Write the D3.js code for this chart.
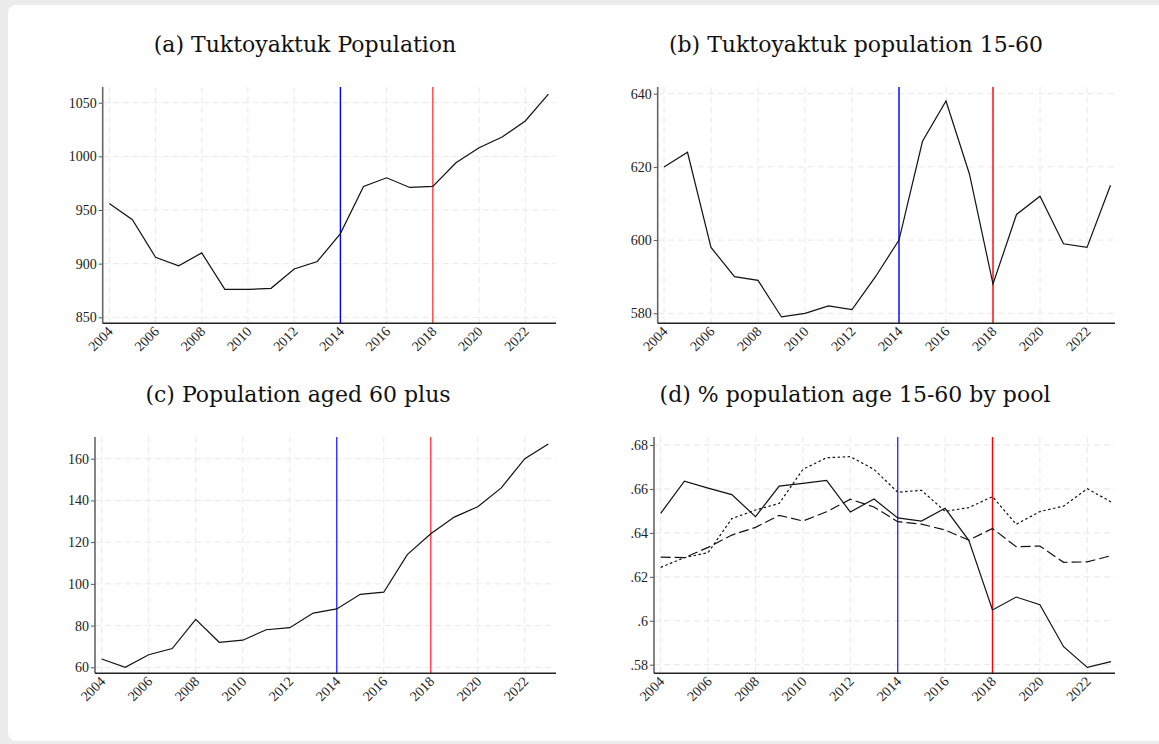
<!DOCTYPE html>
<html>
<head>
<meta charset="utf-8">
<script src="https://cdn.jsdelivr.net/npm/d3@7"></script>
<style>
  html, body { margin: 0; padding: 0; background: #ececec; }
  svg { display: block; }
</style>
</head>
<body>
<svg id="chart" width="1159" height="744"></svg>
<script>
// Years shared by all four panels
const years = d3.range(2004, 2024);
const xTickYears = d3.range(2004, 2023, 2);

// (a) total population
const totalPop = [956, 941, 906, 898, 910, 876, 876, 877, 895, 902, 928, 972, 980, 971, 972, 994, 1008, 1018, 1033, 1058];
const totalTicks = [850, 900, 950, 1000, 1050];

// (b) population aged 15-60
const pop1560 = [620, 624, 598, 590, 589, 579, 580, 582, 581, 590, 600, 627, 638, 618, 588, 607, 612, 599, 598, 615];
const pop1560Ticks = [580, 600, 620, 640];

// (c) population aged 60 plus
const pop60 = [64, 60, 66, 69, 83, 72, 73, 78, 79, 86, 88, 95, 96, 114, 124, 132, 137, 146, 160, 167];
const pop60Ticks = [60, 80, 100, 120, 140, 160];

// (d) share aged 15-60 by pool
const shareSolid  = [0.6489, 0.6635, 0.6604, 0.6574, 0.6474, 0.6613, 0.6625, 0.6639, 0.6495, 0.6554, 0.6468, 0.6454, 0.6512, 0.6366, 0.6049, 0.6108, 0.6073, 0.5882, 0.5788, 0.5814];
const shareDashed = [0.6290, 0.6287, 0.6334, 0.6390, 0.6425, 0.6480, 0.6454, 0.6496, 0.6553, 0.6518, 0.6451, 0.6440, 0.6413, 0.6367, 0.6420, 0.6337, 0.6340, 0.6266, 0.6268, 0.6296];
const shareDotted = [0.6243, 0.6287, 0.6310, 0.6465, 0.6504, 0.6534, 0.6689, 0.6742, 0.6747, 0.6689, 0.6585, 0.6594, 0.6498, 0.6515, 0.6565, 0.6439, 0.6497, 0.6522, 0.6601, 0.6541];
const shareTicks = [0.58, 0.60, 0.62, 0.64, 0.66, 0.68];

// Event years marked by vertical lines
const eventYears = [2014, 2018];

const labelFont = "'Liberation Serif', 'Times New Roman', serif";
const titleFont = "'DejaVu Serif', 'Liberation Serif', serif";

const svg = d3.select("#chart");

// white card
svg.append("rect")
  .attr("x", 8).attr("y", 5).attr("width", 1170).attr("height", 736)
  .attr("rx", 8).attr("ry", 8).attr("fill", "#ffffff");

const panels = [
  {
    title: "(a) Tuktoyaktuk Population", titleX: 305, titleY: 52,
    axisX: 102.7, top: 87, bottom: 323.3, x0: 109.3, x1: 548.4, gridRight: 556,
    yDomain: [850, 1050], yRange: [317.3, 102.7], yTicks: totalTicks, fmt: d3.format("d"),
    series: [{ values: totalPop, dash: null }],
    eventColors: ["#0000ff", "#ff4040"]
  },
  {
    title: "(b) Tuktoyaktuk population 15-60", titleX: 856, titleY: 52,
    axisX: 657.7, top: 87, bottom: 323.3, x0: 664, x1: 1110.5, gridRight: 1115,
    yDomain: [580, 640], yRange: [313.3, 93.7], yTicks: pop1560Ticks, fmt: d3.format("d"),
    series: [{ values: pop1560, dash: null }],
    eventColors: ["#0000ff", "#ff0000"]
  },
  {
    title: "(c) Population aged 60 plus", titleX: 298, titleY: 402,
    axisX: 95, top: 437, bottom: 673.3, x0: 101.7, x1: 548.3, gridRight: 556,
    yDomain: [60, 160], yRange: [667.3, 458.7], yTicks: pop60Ticks, fmt: d3.format("d"),
    series: [{ values: pop60, dash: null }],
    eventColors: ["#3030ff", "#ff4040"]
  },
  {
    title: "(d) % population age 15-60 by pool", titleX: 855, titleY: 402,
    axisX: 654, top: 437, bottom: 673.3, x0: 660.7, x1: 1111, gridRight: 1115,
    yDomain: [0.58, 0.68], yRange: [664.7, 445], yTicks: shareTicks,
    fmt: d => d3.format(".2f")(d).replace(/^0/, "").replace(/0$/, ""),
    series: [
      { values: shareSolid, dash: null },
      { values: shareDashed, dash: "10,4" },
      { values: shareDotted, dash: "2.5,2.5" }
    ],
    eventColors: ["#3838ff", "#ff0000"]
  }
];

panels.forEach(p => {
  const g = svg.append("g");
  const x = d3.scaleLinear().domain([2004, 2023]).range([p.x0, p.x1]);
  const y = d3.scaleLinear().domain(p.yDomain).range(p.yRange);

  // gridlines
  g.selectAll(".hgrid").data(p.yTicks).join("line")
    .attr("x1", p.axisX).attr("x2", p.gridRight)
    .attr("y1", d => y(d)).attr("y2", d => y(d))
    .attr("stroke", "#e8e8e8").attr("stroke-width", 1).attr("stroke-dasharray", "6,4");
  g.selectAll(".vgrid").data(xTickYears).join("line")
    .attr("x1", d => x(d)).attr("x2", d => x(d))
    .attr("y1", p.top).attr("y2", p.bottom)
    .attr("stroke", "#e8e8e8").attr("stroke-width", 1).attr("stroke-dasharray", "6,4");

  // event markers
  g.selectAll(".event").data(eventYears).join("line")
    .attr("x1", d => x(d)).attr("x2", d => x(d))
    .attr("y1", p.top).attr("y2", p.bottom)
    .attr("stroke", (d, i) => p.eventColors[i]).attr("stroke-width", 1.4);

  // data lines
  const line = d3.line().x((d, i) => x(years[i])).y(d => y(d));
  p.series.forEach(s => {
    g.append("path")
      .attr("d", line(s.values))
      .attr("fill", "none")
      .attr("stroke", "#111")
      .attr("stroke-width", 1.2)
      .attr("stroke-dasharray", s.dash);
  });

  // y axis
  const yAxis = d3.axisLeft(y).tickValues(p.yTicks).tickFormat(p.fmt).tickSize(4).tickPadding(2);
  const ya = g.append("g").attr("transform", `translate(${p.axisX},0)`).call(yAxis)
    .attr("font-family", labelFont).attr("font-size", 14);
  ya.select(".domain").remove();
  ya.selectAll(".tick line").attr("stroke", "#555");
  ya.selectAll(".tick text").attr("fill", "#222");
  g.append("line")
    .attr("x1", p.axisX).attr("x2", p.axisX).attr("y1", p.top).attr("y2", p.bottom)
    .attr("stroke", "#666").attr("stroke-width", 1.6);

  // x axis
  const xAxis = d3.axisBottom(x).tickValues(xTickYears).tickFormat(d3.format("d")).tickSize(0);
  const xa = g.append("g").attr("transform", `translate(0,${p.bottom})`).call(xAxis)
    .attr("font-family", labelFont).attr("font-size", 14);
  xa.select(".domain").remove();
  xa.selectAll(".tick text")
    .attr("fill", "#222")
    .attr("text-anchor", "end")
    .attr("dy", null).attr("y", 0)
    .attr("transform", "translate(4,9) rotate(-45)");
  g.append("line")
    .attr("x1", p.axisX).attr("x2", p.gridRight).attr("y1", p.bottom).attr("y2", p.bottom)
    .attr("stroke", "#222").attr("stroke-width", 1.5);

  // title
  svg.append("text")
    .attr("font-family", titleFont).attr("font-size", 22).attr("fill", "#111")
    .attr("x", p.titleX).attr("y", p.titleY)
    .attr("text-anchor", "middle")
    .text(p.title);
});
</script>
</body>
</html>
